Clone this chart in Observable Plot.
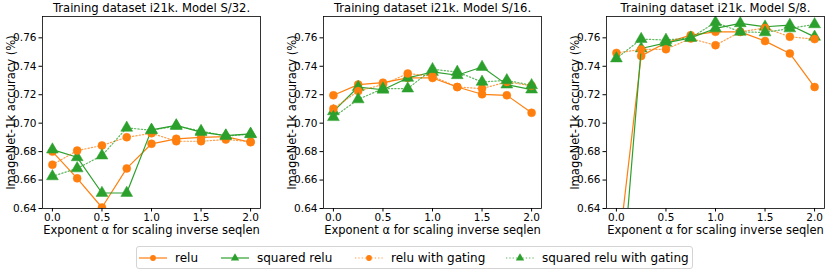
<!DOCTYPE html>
<html>
<head>
<meta charset="utf-8">
<script src="https://cdn.jsdelivr.net/npm/d3@7"></script>
<script src="https://cdn.jsdelivr.net/npm/@observablehq/plot@0.6"></script>
<style>
  html, body { margin: 0; padding: 0; background: #fff; }
  #root { position: relative; width: 830px; height: 272px; font-family: "DejaVu Sans", sans-serif; color: #000; }
  .panel { position: absolute; top: 0; }
  #legend { position: absolute; left: 136px; top: 246px; width: 557px; height: 23px;
            border: 1px solid #d4d4d4; border-radius: 3px; box-sizing: border-box; }
  .lg-item { position: absolute; top: 0; height: 21px; display: flex; align-items: center; font-size: 12px; }
  .lg-item svg { margin-right: 8px; }
</style>
</head>
<body>
<div id="root"></div>
<script>
// ---- data ----
const alpha = [0, 0.25, 0.5, 0.75, 1.0, 1.25, 1.5, 1.75, 2.0];
const seriesNames = ["relu", "squared relu", "relu with gating", "squared relu with gating"];
const panelTitles = ["Training dataset i21k. Model S/32.", "Training dataset i21k. Model S/16.", "Training dataset i21k. Model S/8."];
const yTicks = [0.64, 0.66, 0.68, 0.70, 0.72, 0.74, 0.76];
const xTicks = [0.0, 0.5, 1.0, 1.5, 2.0];
const xLabel = "Exponent α for scaling inverse seqlen";
const yLabel = "ImageNet-1k accuracy (%)";

// S/32
const s32Relu   = [0.6800, 0.6612, 0.6407, 0.6682, 0.6855, 0.6890, 0.6900, 0.6905, 0.6866];
const s32Sq     = [0.6814, 0.6760, 0.6509, 0.6509, 0.6953, 0.6984, 0.6937, 0.6913, 0.6925];
const s32ReluG  = [0.6708, 0.6807, 0.6843, 0.6901, 0.6929, 0.6873, 0.6873, 0.6885, 0.6870];
const s32SqG    = [0.6626, 0.6682, 0.6772, 0.6967, 0.6950, 0.6980, 0.6945, 0.6910, 0.6922];
// S/16
const s16Relu   = [0.7196, 0.7271, 0.7285, 0.7318, 0.7318, 0.7254, 0.7203, 0.7196, 0.7073];
const s16Sq     = [0.7083, 0.7254, 0.7235, 0.7318, 0.7360, 0.7337, 0.7395, 0.7271, 0.7236];
const s16ReluG  = [0.7102, 0.7226, 0.7271, 0.7349, 0.7330, 0.7254, 0.7243, 0.7290, 0.7263];
const s16SqG    = [0.7042, 0.7167, 0.7243, 0.7243, 0.7379, 0.7360, 0.7290, 0.7301, 0.7266];
// S/8
const s8Relu    = [0.598, 0.7473, 0.7565, 0.7619, 0.7642, 0.7642, 0.7577, 0.7490, 0.7254];
const s8Sq      = [0.541, 0.7525, 0.7565, 0.7600, 0.7666, 0.7702, 0.7678, 0.7690, 0.7607];
const s8ReluG   = [0.7494, 0.7518, 0.7520, 0.7595, 0.7548, 0.7642, 0.7670, 0.7607, 0.7591];
const s8SqG     = [0.7455, 0.7591, 0.7585, 0.7600, 0.7709, 0.7642, 0.7638, 0.7666, 0.7695];

const panelSeries = [
  [s32Relu, s32Sq, s32ReluG, s32SqG],
  [s16Relu, s16Sq, s16ReluG, s16SqG],
  [s8Relu, s8Sq, s8ReluG, s8SqG]
];

// ---- styles ----
const ORANGE = "#ff7f0e", GREEN = "#2ca02c";
const styles = [
  {color: ORANGE, symbol: "circle",   dash: null, r: 4},
  {color: GREEN,  symbol: "triangle", dash: null, r: 4.4},
  {color: ORANGE, symbol: "circle",   dash: "1.3,2", r: 4},
  {color: GREEN,  symbol: "triangle", dash: "1.3,2", r: 4.4}
];

const root = document.getElementById("root");
const panelLefts = [0, 281, 564];
const W = 266, H = 236;

panelSeries.forEach((series, p) => {
  const marks = [];
  series.forEach((vals, s) => {
    const st = styles[s];
    const rows = alpha.map((a, i) => ({a, v: vals[i], name: seriesNames[s]}));
    marks.push(Plot.line(rows, {x: "a", y: "v", stroke: st.color, strokeWidth: 1.2,
      strokeDasharray: st.dash || undefined, strokeOpacity: st.dash ? 0.75 : 1, clip: true}));
    marks.push(Plot.dot(rows, {x: "a", y: "v", fill: st.color, stroke: st.color, strokeWidth: 0.5,
      symbol: () => st.symbol, r: st.r, clip: true}));
  });
  const chart = Plot.plot({
    width: W, height: H,
    marginLeft: 42, marginRight: 6, marginTop: 16, marginBottom: 28,
    style: {fontFamily: "DejaVu Sans, sans-serif", fontSize: "10.5px", color: "#000", background: "#fff", overflow: "visible"},
    x: {domain: [-0.1, 2.1]},
    y: {domain: [0.64, 0.775]},
    symbol: {type: "identity"},
    marks: [
      ...marks,
      Plot.axisX({ticks: xTicks, tickFormat: d3.format(".1f"), tickSize: 3.5, tickPadding: 1.2, label: null, fontSize: 10.5}),
      Plot.axisY({ticks: yTicks, tickFormat: d3.format(".2f"), tickSize: 3.5, tickPadding: 2.5, label: null, fontSize: 10.5}),
      Plot.frame({stroke: "#000", strokeWidth: 0.8}),
      Plot.text([panelTitles[p]], {frameAnchor: "top", textAnchor: "middle", lineAnchor: "middle", dy: -8, fontSize: 11.6, text: d => d}),
      Plot.text([xLabel], {frameAnchor: "bottom", textAnchor: "middle", lineAnchor: "middle", dy: 22, fontSize: 11.5, text: d => d}),
      Plot.text([yLabel], {frameAnchor: "left", textAnchor: "middle", lineAnchor: "middle", dx: -31, rotate: -90, fontSize: 11.6, text: d => d})
    ]
  });
  const div = document.createElement("div");
  div.className = "panel";
  div.style.left = panelLefts[p] + "px";
  div.appendChild(chart);
  root.appendChild(div);
});

// ---- legend ----
const legend = document.createElement("div");
legend.id = "legend";
const itemLefts = [2, 84, 218, 369];
seriesNames.forEach((name, s) => {
  const st = styles[s];
  const item = document.createElement("div");
  item.className = "lg-item";
  item.style.left = itemLefts[s] + "px";
  const ns = "http://www.w3.org/2000/svg";
  const svg = document.createElementNS(ns, "svg");
  svg.setAttribute("width", 28); svg.setAttribute("height", 12);
  const line = document.createElementNS(ns, "line");
  line.setAttribute("x1", 0); line.setAttribute("x2", 28);
  line.setAttribute("y1", 6); line.setAttribute("y2", 6);
  line.setAttribute("stroke", st.color); line.setAttribute("stroke-width", 1.2);
  if (st.dash) { line.setAttribute("stroke-dasharray", st.dash); line.setAttribute("stroke-opacity", 0.75); }
  svg.appendChild(line);
  const sym = document.createElementNS(ns, "path");
  const sz = st.symbol === "circle" ? 26 : 30;
  const shape = st.symbol === "circle" ? d3.symbolCircle : d3.symbolTriangle;
  sym.setAttribute("d", d3.symbol(shape, sz)());
  sym.setAttribute("transform", "translate(14,6)");
  sym.setAttribute("fill", st.color);
  svg.appendChild(sym);
  item.appendChild(svg);
  const t = document.createElement("span");
  t.textContent = name;
  item.appendChild(t);
  legend.appendChild(item);
});
root.appendChild(legend);
</script>
</body>
</html>
